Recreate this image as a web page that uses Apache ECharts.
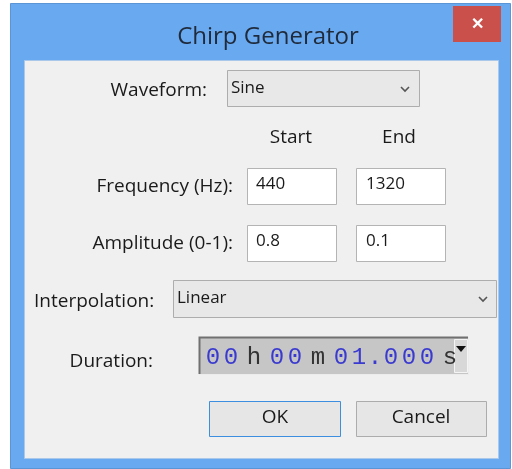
<!DOCTYPE html>
<html>
<head>
<meta charset="utf-8">
<script src="https://cdn.jsdelivr.net/npm/echarts@6/dist/echarts.min.js"></script>
<style>
  html, body { margin: 0; padding: 0; background: #fff; }
  #main { width: 512px; height: 469px; }
</style>
</head>
<body>
<div id="main"></div>
<script>
// dialog texts
const dialogTitle = 'Chirp Generator';
const rowLabels = ['Waveform:', 'Frequency (Hz):', 'Amplitude (0-1):', 'Interpolation:', 'Duration:'];
const columnHeads = ['Start', 'End'];
const waveform = 'Sine';
const frequency = ['440', '1320'];
const amplitude = ['0.8', '0.1'];
const interpolation = 'Linear';
const duration = '00h00m01.000s';
const buttons = ['OK', 'Cancel'];

const FONT = '"Open Sans", "Noto Sans", sans-serif';

function rect(x, y, w, h, fill, stroke, z) {
  return {
    type: 'rect',
    shape: { x, y, width: w, height: h },
    style: { fill, stroke: stroke || null, lineWidth: 1 },
    z: z || 1,
  };
}

function label(text, x, y, align, size, color) {
  return {
    type: 'text',
    x,
    y,
    style: {
      text,
      fill: color || '#1a1a1a',
      font: `${size || 19}px ${FONT}`,
      align: align || 'left',
      verticalAlign: 'middle',
    },
    z: 5,
  };
}

function chevron(cx, cy) {
  return {
    type: 'polyline',
    shape: { points: [[cx - 4, cy - 2], [cx, cy + 2], [cx + 4, cy - 2]] },
    style: { stroke: '#555', lineWidth: 1.6, fill: null },
    z: 5,
  };
}

const elements = [];
// window frame
elements.push(rect(10.5, 3.5, 500, 465, '#69a9ef', '#5b95d6', 0));
// close button
elements.push(rect(453, 6, 48, 36, '#c9504b', null, 2));
elements.push({
  type: 'text', x: 477, y: 24,
  style: { text: '✕', fill: '#fff', font: `bold 16px ${FONT}`, align: 'center', verticalAlign: 'middle' },
  z: 5,
});
elements.push(label(dialogTitle, 268, 37, 'center', 24, '#1f2a3a'));
// client area
elements.push(rect(24.5, 60.5, 474, 398, '#f0f0f0', '#a9c8ea', 1));

// waveform combo
elements.push(label(rowLabels[0], 207, 91, 'right'));
elements.push(rect(227.5, 70.5, 192, 36, '#e8e8e8', '#adadad', 2));
elements.push(label(waveform, 231, 88, 'left', 17));
elements.push(chevron(405, 89));

// column heads
elements.push(label(columnHeads[0], 291, 138, 'center'));
elements.push(label(columnHeads[1], 399, 138, 'center'));

// frequency / amplitude rows
[[frequency, 168], [amplitude, 225]].forEach(([vals, top], i) => {
  elements.push(label(rowLabels[i + 1], 233, top + 19, 'right'));
  elements.push(rect(247.5, top + 0.5, 89, 36, '#ffffff', '#b4b4b4', 2));
  elements.push(rect(356.5, top + 0.5, 89, 36, '#ffffff', '#b4b4b4', 2));
  elements.push(label(vals[0], 256, top + 16, 'left', 17));
  elements.push(label(vals[1], 366, top + 16, 'left', 17));
});

// interpolation combo
elements.push(label(rowLabels[3], 34, 302, 'left'));
elements.push(rect(173.5, 280.5, 323, 37, '#e8e8e8', '#adadad', 2));
elements.push(label(interpolation, 177, 298, 'left', 17));
elements.push(chevron(483, 299));

// duration field
elements.push(label(rowLabels[4], 153, 362, 'right'));
elements.push(rect(199.5, 337.5, 269, 37, '#c6c6c6', '#ececec', 2));
elements.push({
  type: 'polyline',
  shape: { points: [[199.5, 374], [199.5, 337.5], [468, 337.5]] },
  style: { stroke: '#707070', lineWidth: 2, fill: null },
  z: 3,
});
elements.push(rect(454.5, 339.5, 13, 33, '#d8d8d8', '#f4f4f4', 3));
elements.push({
  type: 'polygon',
  shape: { points: [[456, 346], [466, 346], [461, 352]] },
  style: { fill: '#111' },
  z: 5,
});
// spinner text, one glyph at a time with a wider gap around the unit letters
let cx = 213;
duration.split('').forEach((ch, i) => {
  const isUnit = /[a-z]/.test(ch);
  elements.push({
    type: 'text', x: cx, y: 358,
    style: {
      text: ch,
      fill: isUnit ? '#333' : '#3a3ad0',
      font: '24px "Liberation Mono", monospace',
      align: 'center',
      verticalAlign: 'middle',
    },
    z: 5,
  });
  const next = duration[i + 1] || '';
  let adv = 18;
  if (isUnit || /[a-z]/.test(next)) adv += 5;
  if (ch === '.' || next === '.') adv -= 2;
  cx += adv;
});

// buttons
elements.push(rect(209.5, 401.5, 131, 35, '#e6e6e6', '#3c8fe0', 2));
elements.push(label(buttons[0], 275, 418, 'center'));
elements.push(rect(356.5, 401.5, 130, 35, '#e6e6e6', '#acacac', 2));
elements.push(label(buttons[1], 421, 418, 'center'));

const chart = echarts.init(document.getElementById('main'), null, { renderer: 'canvas' });
chart.setOption({
  animation: false,
  backgroundColor: '#ffffff',
  graphic: { elements },
});
</script>
</body>
</html>
